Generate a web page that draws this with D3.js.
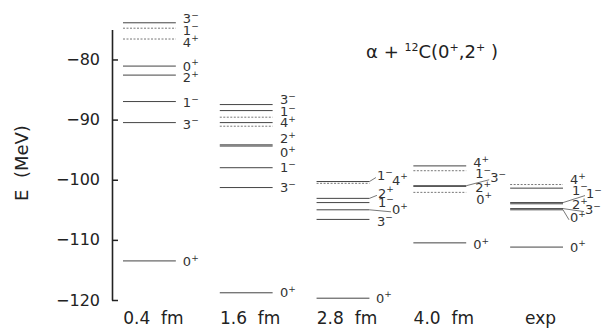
<!DOCTYPE html>
<html>
<head>
<meta charset="utf-8">
<script src="https://cdn.jsdelivr.net/npm/d3@7"></script>
<style>
  body { margin: 0; background: #fff; }
  svg { display: block; }
</style>
</head>
<body>
<div id="chart"></div>
<script>
// column labels (x axis)
const columns = ["0.4\u00a0\u00a0fm", "1.6\u00a0\u00a0fm", "2.8\u00a0\u00a0fm", "4.0\u00a0\u00a0fm", "exp"];
const yTicks = [-80, -90, -100, -110, -120];

// level energies (MeV) and spin-parity per column
const levels04 = [-73.9, -74.8, -76.6, -81.1, -82.6, -87.0, -90.5, -113.5];
const spins04 = ["3-", "1-", "4+", "0+", "2+", "1-", "3-", "0+"];

const levels16 = [-87.5, -88.5, -89.6, -90.5, -91.1, -94.2, -94.4, -98.0, -101.3, -118.8];
const spins16 = ["3-", "1-", "", "4+", "", "2+", "0+", "1-", "3-", "0+"];

const levels28 = [-100.3, -100.6, -103.1, -103.8, -105.0, -106.6, -119.7];
const spins28 = ["1-", "4+", "2+", "1-", "0+", "3-", "0+"];

const levels40 = [-97.7, -98.5, -101.0, -101.1, -102.1, -110.5];
const spins40 = ["4+", "1-", "3-", "2+", "0+", "0+"];

const levelsExp = [-100.8, -101.4, -103.8, -104.0, -104.8, -105.0, -111.2];
const spinsExp = ["4+", "1-", "1-", "2+", "3-", "0+", "0+"];

const allLevels = [levels04, levels16, levels28, levels40, levelsExp];
const allSpins = [spins04, spins16, spins28, spins40, spinsExp];

// label layout: [dx, dy, leader?] in pixels, so crowded labels don't collide
const labelNudge = [
  [[1, -4], [1, 2], [1, 3], [1, 0], [1, 2.5], [1, 1], [1, 1.5], [1, 1]],
  [[1.4, -5], [1.4, 1], null, [1.4, 0], null, [1.4, -6], [1.4, 6.5], [1.4, 0], [1.4, 0], [1.4, 0]],
  [[1.5, -6, 1], [16.5, -3], [2.5, -5, 1], [2.5, 0], [16.5, 0, 1], [1.5, 2], [0.5, 0]],
  [[1, -3], [3, 3], [18, -8, 1], [3, 1.5], [4, 7], [1, 2]],
  [[1, -5], [3, 2], [17, -9, 1], [3, 1], [16, 1, 1], [1, 8, 1], [1, 0]]
];
// broken (dotted) level lines
const dotted = [[1, 2], [2, 4], [1], [1, 4], [0]];

const width = 602, height = 331;

const svg = d3.select("#chart").append("svg")
  .attr("width", width)
  .attr("height", height)
  .attr("viewBox", [0, 0, width, height])
  .style("font-family", "DejaVu Sans");

const y = d3.scaleLinear().domain([-120, -75]).range([300, 29.4]);
const x = d3.scaleBand().domain(columns).range([123, 563]).paddingInner(0.454);

// vertical axis, ticks pointing inward
svg.append("g")
  .attr("transform", "translate(112,0)")
  .call(d3.axisLeft(y).tickValues(yTicks).tickSizeInner(-6).tickSizeOuter(0).tickPadding(12))
  .attr("font-family", "DejaVu Sans")
  .attr("font-size", 16)
  .call(g => g.select(".domain").attr("stroke", "#222").attr("stroke-width", 1.6))
  .call(g => g.selectAll(".tick line").attr("stroke", "#222").attr("stroke-width", 1.5))
  .call(g => g.selectAll(".tick text").attr("fill", "#222"));

svg.append("text")
  .attr("transform", "translate(28,163) rotate(-90)")
  .attr("text-anchor", "middle")
  .attr("font-size", 18)
  .attr("fill", "#222")
  .text("E\u00a0\u00a0(MeV)");

// column names
svg.append("g")
  .selectAll("text")
  .data(columns)
  .join("text")
  .attr("x", d => x(d) + x.bandwidth() / 2 + 4)
  .attr("y", 324)
  .attr("text-anchor", "middle")
  .attr("font-size", 17)
  .attr("fill", "#222")
  .text(d => d);

// title
const title = svg.append("text")
  .attr("x", 432)
  .attr("y", 58)
  .attr("text-anchor", "middle")
  .attr("font-size", 18)
  .attr("fill", "#222");
title.append("tspan").text("\u03b1 + ");
title.append("tspan").attr("font-size", 11).attr("dy", -7).text("12");
title.append("tspan").attr("dy", 7).text("C(0");
title.append("tspan").attr("font-size", 11).attr("dy", -7).text("+");
title.append("tspan").attr("dy", 7).text(",2");
title.append("tspan").attr("font-size", 11).attr("dy", -7).text("+");
title.append("tspan").attr("dy", 7).text("\u00a0)");

// levels
columns.forEach((col, i) => {
  const g = svg.append("g");
  const x0 = x(col), x1 = x(col) + x.bandwidth();
  const rows = allLevels[i].map((E, j) => ({E, spin: allSpins[i][j], j}));

  g.selectAll("line.level")
    .data(rows)
    .join("line")
    .attr("class", "level")
    .attr("x1", x0)
    .attr("x2", x1)
    .attr("y1", d => y(d.E))
    .attr("y2", d => y(d.E))
    .attr("stroke", d => dotted[i].includes(d.j) ? "#777" : "#444")
    .attr("stroke-width", 1)
    .attr("stroke-dasharray", d => dotted[i].includes(d.j) ? "2,1.5" : null);

  rows.forEach(d => {
    const nud = labelNudge[i][d.j];
    if (!d.spin || !nud) return;
    const lx = x1 + 6 + nud[0];
    const cy = y(d.E) + nud[1];
    if (nud[2]) {
      g.append("line")
        .attr("x1", x1).attr("y1", y(d.E))
        .attr("x2", lx - 1).attr("y2", cy + 2)
        .attr("stroke", "#555").attr("stroke-width", 0.8);
    }
    const t = g.append("text")
      .attr("x", lx)
      .attr("y", cy + 4.5)
      .attr("font-size", 13)
      .attr("fill", "#333");
    t.append("tspan").text(d.spin[0]);
    t.append("tspan")
      .attr("dy", -5.5)
      .attr("font-size", 9)
      .text(d.spin[1] === "+" ? "+" : "\u2212");
  });
});
</script>
</body>
</html>
